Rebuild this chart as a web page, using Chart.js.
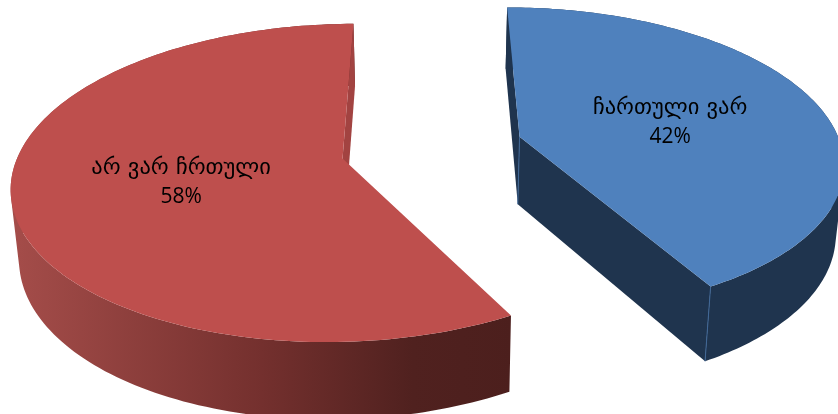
<!DOCTYPE html>
<html>
<head>
<meta charset="utf-8">
<style>html,body{margin:0;padding:0;background:#fff;overflow:hidden}canvas{display:block}</style>
<script src="https://cdn.jsdelivr.net/npm/chart.js@4"></script>
</head>
<body>
<canvas id="c" width="838" height="414"></canvas>
<script>
const categories = ["ჩართული ვარ", "არ ვარ ჩრთული"];
const values = [42, 58];
const topColors = ["#4F81BD", "#BE4F4D"];

// projection of the tilted pie onto the screen
const VIEW = {x0: 432, y0: 147.5, a: 322, b: 152, k: 0.152, explode: 0.284, sx: 0.98, sy: 1.048, dy: 61, steps: 160};

function project(X, Y) {
  const w = 1 / (1 - VIEW.k * Y);
  return [VIEW.x0 + VIEW.a * X * w, VIEW.y0 + VIEW.b * Y * w];
}
function lower(p) {
  return [VIEW.x0 + VIEW.sx * (p[0] - VIEW.x0), p[1] * VIEW.sy + VIEW.dy];
}
function addPoly(ctx, pts) {
  pts.forEach((p, i) => i ? ctx.lineTo(p[0], p[1]) : ctx.moveTo(p[0], p[1]));
  ctx.closePath();
}
function poly(ctx, pts) {
  ctx.beginPath();
  addPoly(ctx, pts);
}
function area(pts) {
  let a = 0;
  pts.forEach((p, i) => { const q = pts[(i + 1) % pts.length]; a += p[0] * q[1] - q[0] * p[1]; });
  return a;
}

const pie3d = {
  id: "pie3d",
  beforeDatasetsDraw(chart) {
    const ctx = chart.ctx;
    const arcs = chart.getDatasetMeta(0).data;
    const shapes = arcs.map(arc => {
      const mid = (arc.startAngle + arc.endAngle) / 2;
      const cx = VIEW.explode * Math.cos(mid), cy = VIEW.explode * Math.sin(mid);
      const rim = [];
      for (let i = 0; i <= VIEW.steps; i++) {
        const t = arc.startAngle + (arc.endAngle - arc.startAngle) * i / VIEW.steps;
        rim.push(project(cx + Math.cos(t), cy + Math.sin(t)));
      }
      return {arc, mid, cx, cy, rim, apex: project(cx, cy)};
    });

    ctx.save();
    shapes.forEach((s, i) => {
      const rimLow = s.rim.map(lower), apexLow = lower(s.apex);
      const first = s.rim[0], last = s.rim[s.rim.length - 1];
      let wall, cut;
      if (i === 1) {
        wall = ctx.createLinearGradient(10, 0, 513, 0);
        wall.addColorStop(0, "#A54D4A");
        wall.addColorStop(0.5, "#74302E");
        wall.addColorStop(0.8, "#50211F");
        wall.addColorStop(1, "#4C1F1D");
        cut = "#A24341";
      } else {
        wall = "#1F344E";
        cut = "#1F344E";
      }
      // outer wall, swept from the top rim to the lower rim (one path, same winding, no seams)
      ctx.fillStyle = wall;
      ctx.beginPath();
      for (let n = 0; n < s.rim.length - 1; n++) {
        let q = [s.rim[n], s.rim[n + 1], rimLow[n + 1], rimLow[n]];
        if (area(q) < 0) q = q.reverse();
        addPoly(ctx, q);
      }
      ctx.fill();
      // cut faces
      ctx.fillStyle = cut;
      poly(ctx, [s.apex, last, lower(last), apexLow]); ctx.fill();
      if (i === 0) { poly(ctx, [s.apex, first, lower(first), apexLow]); ctx.fill(); }
      // corner lines on the blue slice
      if (i === 0) {
        ctx.strokeStyle = "#3F6797"; ctx.lineWidth = 1;
        ctx.beginPath(); ctx.moveTo(last[0], last[1]); const l = lower(last); ctx.lineTo(l[0], l[1]); ctx.stroke();
        ctx.beginPath(); ctx.moveTo(s.apex[0], s.apex[1]); ctx.lineTo(apexLow[0], apexLow[1]); ctx.stroke();
      }
      // top face
      ctx.fillStyle = topColors[i];
      poly(ctx, [s.apex].concat(s.rim)); ctx.fill();
    });

    // data labels
    ctx.fillStyle = "#000";
    ctx.textAlign = "center";
    ctx.textBaseline = "alphabetic";
    shapes.forEach((s, i) => {
      const c = project(s.cx + 0.5 * Math.cos(s.mid), s.cy + 0.5 * Math.sin(s.mid));
      ctx.font = '22.5px "DejaVu Sans"';
      ctx.fillText(categories[i], c[0] + 1, c[1] - 4);
      ctx.font = '21px "Open Sans"';
      ctx.fillText(values[i] + "%", c[0] + 1, c[1] + 25);
    });
    ctx.restore();
    return false;
  }
};

new Chart(document.getElementById("c"), {
  type: "pie",
  data: {labels: categories, datasets: [{data: values, backgroundColor: topColors, borderWidth: 0}]},
  options: {
    responsive: false,
    animation: false,
    rotation: -0.2,
    layout: {padding: 0},
    plugins: {legend: {display: false}, tooltip: {enabled: false}, title: {display: false}}
  },
  plugins: [pie3d]
});
</script>
</body>
</html>
